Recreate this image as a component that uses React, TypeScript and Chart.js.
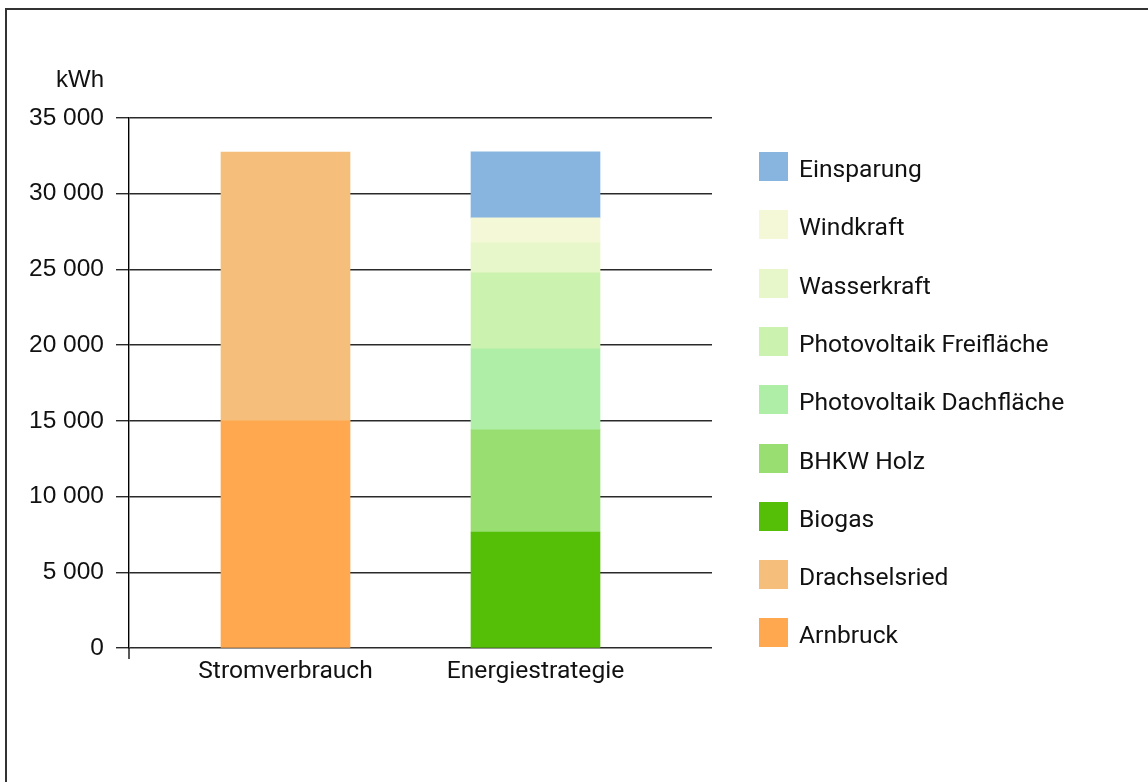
import React, { useEffect, useRef } from "react";
import { Chart, registerables } from "chart.js";

Chart.register(...registerables);

const categories = ["Stromverbrauch", "Energiestrategie"];
const seriesLabels = [
  "Arnbruck",
  "Drachselsried",
  "Biogas",
  "BHKW Holz",
  "Photovoltaik Dachfläche",
  "Photovoltaik Freifläche",
  "Wasserkraft",
  "Windkraft",
  "Einsparung",
];
const seriesColors = [
  "#ffa850",
  "#f5be7a",
  "#55be06",
  "#98de70",
  "#aeeea6",
  "#ccf2b0",
  "#e8f7c9",
  "#f4f8d6",
  "#87b5e0",
];
// values per series: [Stromverbrauch, Energiestrategie]
const arnbruck = [15000, null];
const drachselsried = [17750, null];
const biogas = [null, 7660];
const bhkwHolz = [null, 6740];
const pvDach = [null, 5350];
const pvFrei = [null, 5020];
const wasserkraft = [null, 1980];
const windkraft = [null, 1650];
const einsparung = [null, 4360];
const seriesValues = [arnbruck, drachselsried, biogas, bhkwHolz, pvDach, pvFrei, wasserkraft, windkraft, einsparung];
const yTicks = [0, 5000, 10000, 15000, 20000, 25000, 30000, 35000];
const yUnit = "kWh";

const fmt = (v: number) => String(v).replace(/\B(?=(\d{3})+(?!\d))/g, " ");

const LEGEND_FONT = "Roboto, 'Noto Sans', sans-serif";
const AXIS_FONT = "'Liberation Sans', Arial, sans-serif";

export default function App() {
  const ref = useRef<HTMLCanvasElement | null>(null);
  useEffect(() => {
    if (!ref.current) return;
    const extras = {
      id: "extras",
      afterDraw(chart: any) {
        const ctx = chart.ctx;
        const ca = chart.chartArea;
        ctx.save();
        ctx.strokeStyle = "#000";
        ctx.lineWidth = 1.3;
        ctx.beginPath();
        ctx.moveTo(ca.left, ca.bottom);
        ctx.lineTo(ca.left, ca.bottom + 11);
        ctx.stroke();
        ctx.fillStyle = "#111";
        ctx.font = "24px " + AXIS_FONT;
        ctx.textAlign = "right";
        ctx.textBaseline = "middle";
        ctx.fillText(yUnit, 104, 80);
        ctx.restore();
      },
    };
    const datasets = seriesLabels.map((label, i) => ({
      label,
      backgroundColor: seriesColors[i],
      borderWidth: 0,
      barThickness: 129,
      data: seriesValues[i]
        .map((v, j) => (v == null ? null : { x: j, y: v }))
        .filter((d) => d !== null),
    }));
    const chart = new Chart(ref.current, {
      type: "bar",
      data: { datasets: datasets as any },
      plugins: [extras],
      options: {
        animation: false,
        responsive: false,
        maintainAspectRatio: false,
        layout: { padding: { left: 0, top: 118, right: 436, bottom: 84 } },
        plugins: { legend: { display: false }, tooltip: { enabled: false } },
        scales: {
          x: {
            type: "linear",
            stacked: true,
            offset: false,
            bounds: "data",
            min: -0.626,
            max: 1.706,
            afterBuildTicks: (scale: any) => {
              scale.ticks = categories.map((_, i) => ({ value: i }));
            },
            afterFit: (scale: any) => {
              scale.height = 50;
            },
            grid: { display: false, drawTicks: false, offset: false },
            border: { display: false },
            ticks: {
              autoSkip: false,
              maxRotation: 0,
              padding: 9,
              color: "#111",
              font: { family: LEGEND_FONT, size: 24.6 },
              callback: (v: any) => categories[v] ?? "",
            },
          },
          y: {
            stacked: true,
            min: 0,
            max: 35000,
            afterBuildTicks: (scale: any) => {
              scale.ticks = yTicks.map((v) => ({ value: v }));
            },
            afterFit: (scale: any) => {
              scale.width = 129;
            },
            grid: { color: "#2a2a2a", lineWidth: 1.4, tickLength: 13, drawTicks: true },
            border: { display: true, color: "#000", width: 1.4 },
            ticks: {
              padding: 12,
              color: "#111",
              font: { family: AXIS_FONT, size: 24.5 },
              callback: (v: any) => fmt(Number(v)),
            },
          },
        },
      },
    });
    return () => chart.destroy();
  }, []);

  const legendItems = seriesLabels.map((l, i) => ({ l, c: seriesColors[i] })).reverse();

  return (
    <div style={{ position: "fixed", left: 0, top: 0, width: 1148, height: 782, overflow: "hidden", background: "#fff" }}>
      <div
        style={{
          position: "absolute",
          left: 5,
          top: 8,
          width: 1300,
          height: 900,
          border: "2px solid #333",
          boxSizing: "border-box",
        }}
      />
      <canvas ref={ref} width={1148} height={782} style={{ position: "absolute", left: 0, top: 0, width: 1148, height: 782 }} />
      {legendItems.map((it, k) => (
        <div
          key={it.l}
          style={{
            position: "absolute",
            left: 759,
            top: 152 + k * 58.3,
            height: 29,
            display: "flex",
            alignItems: "center",
            whiteSpace: "nowrap",
          }}
        >
          <div style={{ width: 29, height: 29, background: it.c, flex: "none" }} />
          <span
            style={{
              marginLeft: 11,
              position: "relative",
              top: 2,
              fontFamily: LEGEND_FONT,
              fontSize: 24.6,
              lineHeight: "29px",
              color: "#111",
            }}
          >
            {it.l}
          </span>
        </div>
      ))}
    </div>
  );
}
